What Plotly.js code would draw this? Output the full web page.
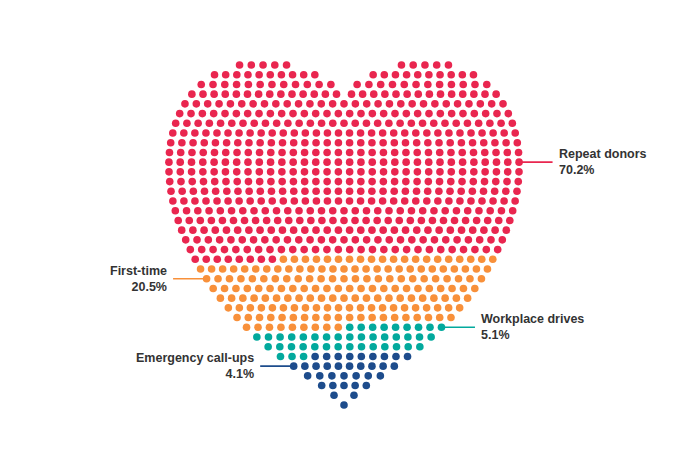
<!DOCTYPE html>
<html>
<head>
<meta charset="utf-8">
<script src="https://cdn.plot.ly/plotly-3.0.1.min.js"></script>
<style>
  html, body { margin: 0; padding: 0; background: #ffffff; }
  #chart { width: 688px; height: 470px; }
</style>
</head>
<body>
<div id="chart"></div>
<script>
// ---- Data ----
var categories = ["Repeat donors", "First-time", "Workplace drives", "Emergency call-ups"];
var shares = [70.2, 20.5, 5.1, 4.1];
var shareLabels = ["70.2%", "20.5%", "5.1%", "4.1%"];
var colors = ["#E9264F", "#F8903A", "#02A99D", "#1D4C8C"];

// ---- Heart dot-grid layout ----
var W = 688, H = 470;
var tipX = 344, tipY = 405;      // bottom tip (px)
var halfWidthPx = 175;           // widest half-width of the dot area (px)
var topPx = 63;                  // top of heart outline (px)
var pad = 3;                     // outward padding of each row (px)
var rowGap = 9.714;              // px between rows
var dotGap = 11;                 // min px between dots in a row
var minInnerGap = 15;            // min px between the two lobes' inner dots
var nRows = 36;
var bTop = 1.2, bBot = 1.0;      // heart shape parameters

function inside(x, y) {
  var a = x * x + y * y - 1;
  var b = y > 0 ? bTop : bBot;
  return a * a * a - b * x * x * y * y * y <= 0;
}

var maxX = 0, topY = 1;
for (var yy = -1; yy <= 1.7; yy += 0.002) {
  for (var xx = 0; xx <= 1.7; xx += 0.002) {
    if (inside(xx, yy)) { if (xx > maxX) maxX = xx; if (yy > topY) topY = yy; }
  }
}
var kx = (halfWidthPx - pad) / maxX;
var ky = (tipY - topPx) / (topY + 1);

var rows = [];
for (var k = nRows - 1; k >= 0; k--) {
  var yu = -1 + k * rowGap / ky;
  var segs = [], inSeg = false, start = 0, step = 0.0005, last = 0;
  for (var xu = -1.7; xu <= 1.7; xu += step) {
    var ins = inside(xu, yu);
    if (ins && !inSeg) { inSeg = true; start = xu; }
    if (!ins && inSeg) { inSeg = false; segs.push([start, last]); }
    if (ins) last = xu;
  }
  if (inSeg) segs.push([start, last]);
  var pxSegs = segs.map(function (s) { return [tipX + s[0] * kx - pad, tipX + s[1] * kx + pad]; });
  if (k === 0) pxSegs = [[tipX, tipX]];
  if (pxSegs.length === 2) {
    var gap = pxSegs[1][0] - pxSegs[0][1];
    if (gap < minInnerGap) {
      var sh = (minInnerGap - gap) / 2;
      pxSegs[0][1] -= sh; pxSegs[1][0] += sh;
    }
  }
  var row = [];
  pxSegs.forEach(function (s) {
    var a = s[0], b = s[1], w = b - a;
    var n = Math.floor(w / dotGap + 1e-9) + 1;
    for (var i = 0; i < n; i++) {
      var px = n === 1 ? (a + b) / 2 : a + i * w / (n - 1);
      row.push({ x: px, y: tipY - k * rowGap, k: k });
    }
  });
  rows.push(row);
}

var dots = [];
rows.forEach(function (r) { r.forEach(function (d) { dots.push(d); }); });
var N = dots.length;

// dots per category; the largest takes the rounding remainder
var counts = shares.map(function (s) { return Math.round(s / 100 * N); });
counts[0] = N - counts.slice(1).reduce(function (a, b) { return a + b; }, 0);

var traces = [], catDots = [], idx = 0;
for (var c = 0; c < categories.length; c++) {
  var xs = [], ys = [], list = [];
  for (var j = 0; j < counts[c]; j++, idx++) {
    xs.push(dots[idx].x); ys.push(dots[idx].y); list.push(dots[idx]);
  }
  catDots.push(list);
  traces.push({
    type: "scatter", mode: "markers", x: xs, y: ys, name: categories[c],
    marker: { color: colors[c], size: 7.6, line: { width: 0 } },
    hoverinfo: "skip"
  });
}

// label anchors: grid row (counted from the bottom) and side
var anchors = [
  { row: 25, side: "right" },
  { row: 13, side: "left" },
  { row: 8, side: "right" },
  { row: 4, side: "left" }
];

var shapes = [], annotations = [];
var lineLen = 33.5, textGap = 4;
anchors.forEach(function (an, c) {
  var rowDots = catDots[c].filter(function (d) { return d.k === an.row; });
  if (!rowDots.length) rowDots = dots.filter(function (d) { return d.k === an.row; });
  var d = an.side === "right" ? rowDots[rowDots.length - 1] : rowDots[0];
  var dir = an.side === "right" ? 1 : -1;
  var x2 = d.x + dir * lineLen;
  shapes.push({
    type: "line", xref: "x", yref: "y", layer: "below",
    x0: d.x, y0: d.y, x1: x2, y1: d.y,
    line: { color: colors[c], width: 1.6 }
  });
  annotations.push({
    xref: "x", yref: "y", x: x2 + dir * textGap, y: d.y,
    xanchor: an.side === "right" ? "left" : "right", yanchor: "middle",
    align: an.side === "right" ? "left" : "right",
    text: categories[c] + "<br>" + shareLabels[c],
    showarrow: false,
    font: { family: "Liberation Sans, Arial, sans-serif", size: 12.5, color: "#333333", weight: "bold" }
  });
});

var layout = {
  width: W, height: H,
  margin: { l: 0, r: 0, t: 0, b: 0 },
  paper_bgcolor: "#ffffff", plot_bgcolor: "#ffffff",
  showlegend: false,
  xaxis: { range: [0, W], visible: false, fixedrange: true },
  yaxis: { range: [H, 0], visible: false, fixedrange: true },
  shapes: shapes,
  annotations: annotations
};

Plotly.newPlot("chart", traces, layout, { displayModeBar: false, staticPlot: true });
</script>
</body>
</html>
